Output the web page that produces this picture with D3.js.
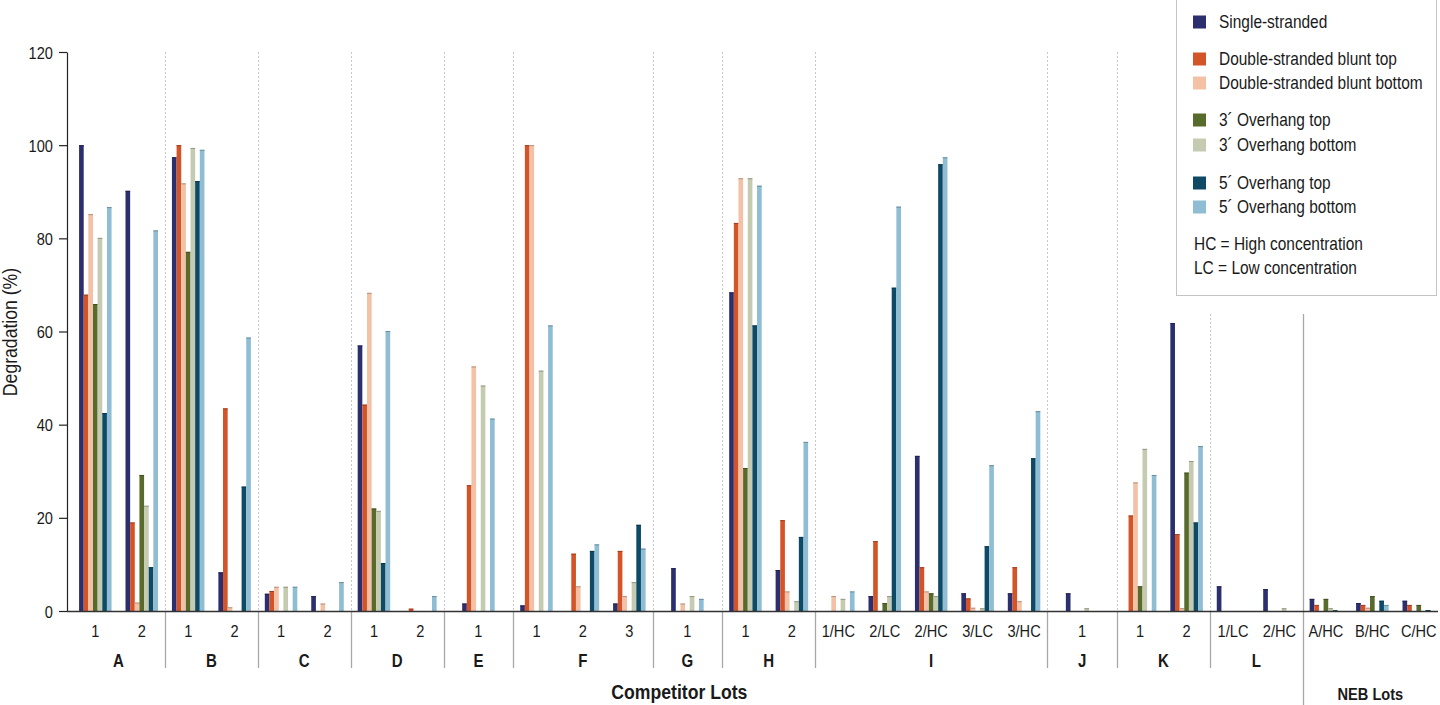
<!DOCTYPE html>
<html>
<head>
<meta charset="utf-8">
<script src="https://cdn.jsdelivr.net/npm/d3@7"></script>
<style>
  html, body { margin: 0; padding: 0; background: #fff; }
  svg { display: block; }
  text { font-family: "Liberation Sans", Arial, sans-serif; fill: #1a1a1a; }
</style>
</head>
<body>
<svg id="chart" width="1440" height="705"></svg>
<script>
// ---------- DATA ----------
const groupNames = ["A", "B", "C", "D", "E", "F", "G", "H", "I", "J", "K", "L", ""];
const groupLots = [
  ["1", "2"], ["1", "2"], ["1", "2"], ["1", "2"], ["1"], ["1", "2", "3"], ["1"], ["1", "2"],
  ["1/HC", "2/LC", "2/HC", "3/LC", "3/HC"], ["1"], ["1", "2"], ["1/LC", "2/HC"],
  ["A/HC", "B/HC", "C/HC"]
];
const sectionLabels = ["Competitor Lots", "NEB Lots"];
const seriesNames = [
  "Single-stranded", "Double-stranded blunt top", "Double-stranded blunt bottom",
  "3\u00B4 Overhang top", "3\u00B4 Overhang bottom", "5\u00B4 Overhang top", "5\u00B4 Overhang bottom"
];
const seriesColors = ["#2b2f6e", "#d4542a", "#f2c1a6", "#596a2d", "#c5cbb1", "#0e4a66", "#8fbdd3"];
// order: A1 A2 B1 B2 C1 C2 D1 D2 E1 F1 F2 F3 G1 H1 H2 I1/HC I2/LC I2/HC I3/LC I3/HC J1 K1 K2 L1/LC L2/HC NEB-A NEB-B NEB-C
const singleStranded = [100, 90.2, 97.4, 8.3, 3.7, 3.2, 57.0, 0, 1.6, 1.2, 0, 1.6, 9.2, 68.4, 8.8, 0, 3.2, 33.3, 3.8, 3.8, 3.8, 0, 61.8, 5.3, 4.7, 2.6, 1.7, 2.2];
const dsBluntTop     = [67.9, 19.0, 100, 43.5, 4.3, 0, 44.3, 0.5, 27.0, 100, 12.3, 12.9, 0, 83.3, 19.5, 0, 15.0, 9.4, 2.7, 9.4, 0, 20.5, 16.5, 0, 0, 1.3, 1.3, 1.3];
const dsBluntBottom  = [85.2, 1.8, 91.8, 0.8, 5.2, 1.6, 68.3, 0, 52.5, 100, 5.3, 3.2, 1.6, 92.9, 4.2, 3.2, 0, 4.2, 0.7, 2.1, 0, 27.6, 0.6, 0, 0, 0, 0.7, 0];
const overhang3Top   = [65.9, 29.2, 77.1, 0, 0, 0, 22.0, 0, 0, 0, 0, 0, 0, 30.7, 0, 0, 1.7, 3.8, 0, 0, 0, 5.3, 29.7, 0, 0, 2.6, 3.2, 1.3];
const overhang3Bottom= [80.1, 22.6, 99.4, 0, 5.2, 0, 21.5, 0, 48.4, 51.6, 0, 6.2, 3.2, 92.9, 2.1, 2.6, 3.2, 3.2, 0.6, 0, 0.6, 34.8, 32.2, 0, 0.6, 0.6, 0, 0];
const overhang5Top   = [42.5, 9.4, 92.3, 26.7, 0, 0, 10.3, 0, 0, 0, 12.9, 18.5, 0, 61.3, 15.9, 0, 69.4, 95.9, 13.9, 32.8, 0, 0, 19.0, 0, 0, 0.15, 2.2, 0.2];
const overhang5Bottom= [86.7, 81.7, 99.0, 58.7, 5.2, 6.2, 60.1, 3.2, 41.3, 61.3, 14.3, 13.4, 2.6, 91.3, 36.3, 4.2, 86.8, 97.4, 31.3, 42.9, 0, 29.2, 35.4, 0, 0, 0, 1.3, 0];
const yTicks = [0, 20, 40, 60, 80, 100, 120];
const legendNotes = ["HC = High concentration", "LC = Low concentration"];
const yTitle = "Degradation (%)";

const seriesValues = [singleStranded, dsBluntTop, dsBluntBottom, overhang3Top, overhang3Bottom, overhang5Top, overhang5Bottom];

// ---------- LAYOUT ----------
const cats = [];
const groupSpans = [];
let u = 0;
groupLots.forEach((lots, gi) => {
  const width = lots.length === 1 ? 1.5 : lots.length;
  const start = u;
  lots.forEach((lot, li) => {
    const center = lots.length === 1 ? start + 0.75 : start + li + 0.5;
    cats.push({ group: gi, lot, center });
  });
  u += width;
  groupSpans.push({ name: groupNames[gi], start, end: u });
});
const totalUnits = u;

const svg = d3.select("#chart");
const yAxisX = 67;
const x = d3.scaleLinear().domain([0, totalUnits]).range([72.1, 1442]);
const y = d3.scaleLinear().domain([0, 120]).range([611, 52]);
const slotPx = x(1) - x(0);
const inner = d3.scaleBand().domain(d3.range(seriesNames.length)).range([-0.35, 0.35]).paddingInner(0);

// condensed text helper: Liberation Sans squeezed horizontally
const SX = 0.86;
function ctext(parent, tx, ty, str, size, opts = {}) {
  const g = parent.append("g").attr("transform", `translate(${tx},${ty})${opts.rotate ? " rotate(" + opts.rotate + ")" : ""} scale(${opts.sx || SX},1)`);
  return g.append("text").attr("x", 0).attr("y", 0)
    .attr("font-size", size)
    .attr("font-weight", opts.weight || "normal")
    .attr("text-anchor", opts.anchor || "start")
    .attr("fill", opts.fill || "#1a1a1a")
    .text(str);
}

// ---------- SEPARATORS ----------
const nebIndex = groupLots.length - 1;
groupSpans.forEach((g, i) => {
  if (i === 0) return;
  const bx = Math.round(x(g.start)) + 0.5;
  const isNeb = i === nebIndex;
  const top = (bx > 1170) ? 314 : 52;
  if (isNeb) {
    svg.append("line").attr("x1", bx).attr("x2", bx).attr("y1", top).attr("y2", 705)
      .attr("stroke", "#a8a8a8").attr("stroke-width", 1.3);
  } else {
    svg.append("line").attr("x1", bx).attr("x2", bx).attr("y1", top).attr("y2", 611)
      .attr("stroke", "#c8c8c8").attr("stroke-width", 1).attr("stroke-dasharray", "2,2");
    svg.append("line").attr("x1", bx).attr("x2", bx).attr("y1", 611).attr("y2", 668)
      .attr("stroke", "#a8a8a8").attr("stroke-width", 1.3);
  }
});

// ---------- BARS ----------
const barG = svg.append("g");
seriesValues.forEach((vals, si) => {
  const col = seriesColors[si];
  const dark = d3.color(col).darker(0.8).formatHex();
  const gs = barG.append("g");
  cats.forEach((c, ci) => {
    const v = vals[ci];
    if (!v) return;
    const bx = x(c.center + inner(si));
    const bw = inner.bandwidth() * slotPx;
    const top = y(v);
    gs.append("rect").attr("x", bx).attr("y", top).attr("width", bw).attr("height", y(0) - top).attr("fill", col);
    gs.append("line").attr("x1", bx).attr("x2", bx + bw).attr("y1", top + 0.5).attr("y2", top + 0.5)
      .attr("stroke", dark).attr("stroke-width", 1);
  });
});

// ---------- AXES ----------
const yAxis = svg.append("g").attr("transform", `translate(${yAxisX},0)`)
  .call(d3.axisLeft(y).tickValues(yTicks).tickSize(8).tickSizeOuter(0).tickPadding(5));
yAxis.selectAll("path, line").attr("stroke", "#222").attr("stroke-width", 1.2);
yAxis.selectAll(".tick").each(function (d) {
  const t = d3.select(this);
  t.select("text").remove();
  ctext(t, -14, 6, String(d), 17, { anchor: "end", fill: "#222" });
});

svg.append("line").attr("x1", yAxisX).attr("x2", 1438).attr("y1", 611.5).attr("y2", 611.5)
  .attr("stroke", "#333").attr("stroke-width", 1.3);

ctext(svg, 17, 332, yTitle, 20.5, { rotate: -90, anchor: "middle", fill: "#222" });

// lot labels
cats.forEach(d => ctext(svg, x(d.center), 637, d.lot, 17, { anchor: "middle", fill: "#222" }));

// group labels
groupSpans.filter(g => g.name).forEach(d =>
  ctext(svg, x((d.start + d.end) / 2), 667, d.name, 17.5, { anchor: "middle", weight: "bold", fill: "#111" }));

// section labels
const compEnd = groupSpans[nebIndex].start;
ctext(svg, x(compEnd / 2) - 8, 699, sectionLabels[0], 20.5, { anchor: "middle", weight: "bold", fill: "#111" });
ctext(svg, x((groupSpans[nebIndex].start + groupSpans[nebIndex].end) / 2) - 2, 700, sectionLabels[1], 17,
  { anchor: "middle", weight: "bold", fill: "#111" });

// ---------- LEGEND ----------
const lg = svg.append("g");
lg.append("rect").attr("x", 1176.5).attr("y", -2).attr("width", 260).attr("height", 297.5)
  .attr("fill", "#fff").attr("stroke", "#c4c4c4").attr("stroke-width", 1);
const legendRows = [22, 59, 83, 120, 145, 183, 207];
seriesNames.forEach((name, i) => {
  const cy = legendRows[i];
  lg.append("rect").attr("x", 1193).attr("y", cy - 6.5).attr("width", 13).attr("height", 13).attr("fill", seriesColors[i]);
  ctext(lg, 1219, cy + 6, name, 18, { fill: "#222" });
});
const noteRows = [244, 268];
legendNotes.forEach((t, i) => ctext(lg, 1194, noteRows[i] + 6, t, 18, { fill: "#222" }));
</script>
</body>
</html>
